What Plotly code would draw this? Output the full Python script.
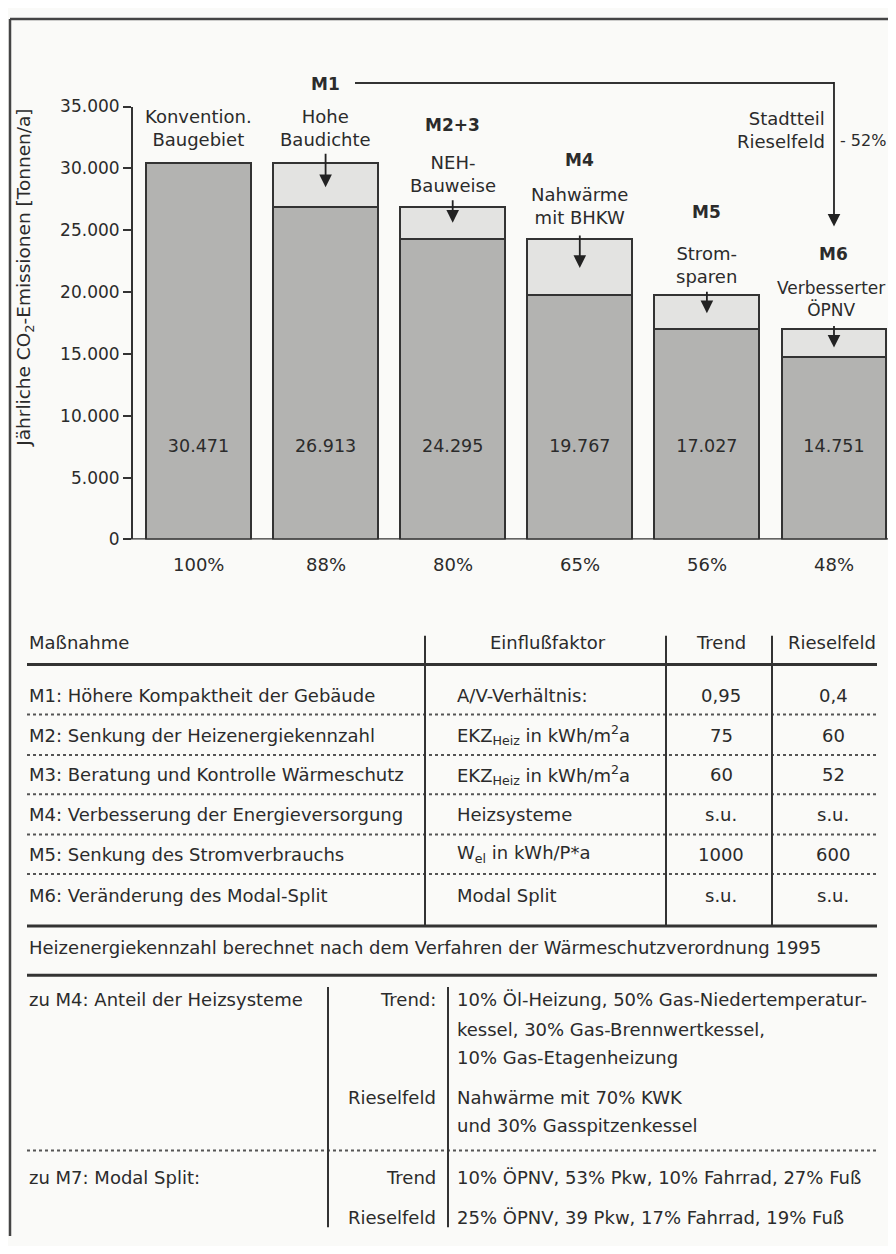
import plotly.graph_objects as go

# ---------------- data ----------------
categories = ["Konvention.<br>Baugebiet", "Hohe<br>Baudichte", "NEH-<br>Bauweise",
              "Nahwärme<br>mit BHKW", "Strom-<br>sparen", "Verbesserter<br>ÖPNV"]
measure_tags = ["", "M1", "M2+3", "M4", "M5", "M6"]
emissions = [30471, 26913, 24295, 19767, 17027, 14751]
percent_labels = ["100%", "88%", "80%", "65%", "56%", "48%"]
ytick_vals = [0, 5000, 10000, 15000, 20000, 25000, 30000, 35000]
ytick_text = ["0", "5.000", "10.000", "15.000", "20.000", "25.000", "30.000", "35.000"]
total_label = "Stadtteil<br>Rieselfeld"
total_change = "- 52%"

table_header = ["Maßnahme", "Einflußfaktor", "Trend", "Rieselfeld"]
table_measures = ["M1: Höhere Kompaktheit der Gebäude",
                  "M2: Senkung der Heizenergiekennzahl",
                  "M3: Beratung und Kontrolle Wärmeschutz",
                  "M4: Verbesserung der Energieversorgung",
                  "M5: Senkung des Stromverbrauchs",
                  "M6: Veränderung des Modal-Split"]
table_factors = ["A/V-Verhältnis:",
                 "EKZ<sub>Heiz</sub> in kWh/m<sup>2</sup>a",
                 "EKZ<sub>Heiz</sub> in kWh/m<sup>2</sup>a",
                 "Heizsysteme",
                 "W<sub>el</sub> in kWh/P*a",
                 "Modal Split"]
table_trend = ["0,95", "75", "60", "s.u.", "1000", "s.u."]
table_riesel = ["0,4", "60", "52", "s.u.", "600", "s.u."]
footnote = "Heizenergiekennzahl berechnet nach dem Verfahren der Wärmeschutzverordnung 1995"

m4_title = "zu M4: Anteil der Heizsysteme"
m4_trend = ["10% Öl-Heizung, 50% Gas-Niedertemperatur-",
            "kessel, 30% Gas-Brennwertkessel,",
            "10% Gas-Etagenheizung"]
m4_riesel = ["Nahwärme mit 70% KWK", "und 30% Gasspitzenkessel"]
m7_title = "zu M7: Modal Split:"
m7_trend = "10% ÖPNV, 53% Pkw, 10% Fahrrad, 27% Fuß"
m7_riesel = "25% ÖPNV, 39 Pkw, 17% Fahrrad, 19% Fuß"

# ---------------- layout helpers ----------------
PAGE_OFF = 8                # browser body margin
FW, FH = 896 - 2 * PAGE_OFF, 1254 - 2 * PAGE_OFF
FONT = "DejaVu Sans"
TXT = "#2b2b2b"
LINE = "#333333"
FS_T = 18      # table text
FS_C = 18      # chart labels
FS_TICK = 17
FS_VAL = 17.5


def X(px):
    return (px - PAGE_OFF) / FW


def Y(py):
    return 1 - (py - PAGE_OFF) / FH


X_DOM0 = 133
X_LO = -0.5153
X_HI = X_LO + (896 - PAGE_OFF - X_DOM0) / 127.1

reductions = [None] + [emissions[i - 1] - emissions[i] for i in range(1, len(emissions))]

fig = go.Figure()
idx = list(range(len(emissions)))
fig.add_trace(go.Bar(x=idx, y=emissions, width=0.826,
                     marker=dict(color="#b3b3b1", line=dict(color=LINE, width=2)),
                     showlegend=False, hoverinfo="skip"))
fig.add_trace(go.Bar(x=idx, y=reductions, width=0.826,
                     marker=dict(color="#e3e3e1", line=dict(color=LINE, width=2)),
                     showlegend=False, hoverinfo="skip"))
fig.add_trace(go.Scatter(x=idx, y=[7400] * len(idx), mode="text",
                         text=[f"{v:,}".replace(",", ".") for v in emissions],
                         textfont=dict(family=FONT, size=FS_VAL, color=TXT),
                         showlegend=False, hoverinfo="skip"))

annotations = []
shapes = []


def ann(text, x, y, xref="paper", xanchor="center", size=FS_T, align="center", **kw):
    annotations.append(dict(text=text, x=x, y=y, xref=xref, yref="paper",
                            xanchor=xanchor, yanchor="middle", showarrow=False,
                            align=align, font=dict(family=FONT, size=size, color=TXT), **kw))


def arrow(x, tip, tail, xref="x"):
    annotations.append(dict(text="", x=x, y=Y(tip), xref=xref, yref="paper",
                            ax=0, ay=-(tip - tail), axref="pixel", ayref="pixel",
                            showarrow=True, arrowhead=2, arrowsize=1.4, arrowwidth=1.8,
                            arrowcolor="#222222", standoff=0))


def hline(x0, x1, y, width=2, dash="solid", color=LINE):
    shapes.append(dict(type="line", xref="paper", yref="paper", x0=X(x0), x1=X(x1),
                       y0=Y(y), y1=Y(y), line=dict(color=color, width=width, dash=dash)))


def vline(x, y0, y1, width=2, color=LINE):
    shapes.append(dict(type="line", xref="paper", yref="paper", x0=X(x), x1=X(x),
                       y0=Y(y0), y1=Y(y1), line=dict(color=color, width=width)))


# category labels above bars
label_y = [119.5, 119.5, 167, 199.5, 259.5, 294]
label_size = [FS_C, FS_C, FS_C, FS_C, FS_C, 17]
label_shift = [0, 0, 0, 0, 0, -3]
tag_y = [None, 75, 117, 152, 205, 248]
arrows_px = [None, (145, 180), (192, 216), (228, 262), (285, 308), (320, 343)]
for i in idx:
    ann(categories[i], i, Y(label_y[i]), xref="x", size=label_size[i], xshift=label_shift[i])
    if measure_tags[i]:
        ann(f"<b>{measure_tags[i]}</b>", i, Y(tag_y[i]), xref="x", size=FS_C - 1)
    if arrows_px[i]:
        arrow(i, arrows_px[i][1], arrows_px[i][0])
    ann(percent_labels[i], i, Y(563), xref="x", size=FS_C)

# M1 bracket to total
hline(355, 834, 74, width=2)
arrow(5, 220, 74)
ann(total_label, X(827), Y(121.5), xanchor="right", align="right", size=FS_C)
ann(total_change, X(838), Y(133), xanchor="left", size=16)

# baseline of bars
shapes.append(dict(type="line", xref="paper", yref="y", x0=X(125), x1=1.0, y0=0, y1=0,
                   line=dict(color=LINE, width=2.5)))

# y axis title
ann("Jährliche CO<sub>2</sub>-Emissionen [Tonnen/a]", X(25), Y(272), textangle=-90, size=18.5)

# ---------------- table 1 ----------------
L, R = 27, 877
hy = 643
ann(table_header[0], X(L), Y(hy), xanchor="left")
ann(table_header[1], X(548), Y(hy))
ann(table_header[2], X(721), Y(hy))
ann(table_header[3], X(832), Y(hy))
hline(L, R, 665, width=3)
row_y = [697, 737, 777, 818, 858, 900]
for j, ry in enumerate(row_y):
    ann(table_measures[j], X(L), Y(ry), xanchor="left")
    ann(table_factors[j], X(455), Y(ry), xanchor="left")
    ann(table_trend[j], X(721), Y(ry))
    ann(table_riesel[j], X(833), Y(ry))
for dy in [716, 757, 797, 838, 878]:
    hline(L, R, dy, width=2, dash="dot", color="#555555")
for vx in [425, 666, 772]:
    vline(vx, 636, 931)
hline(L, R, 931, width=3)
ann(footnote, X(L), Y(953), xanchor="left")
hline(L, R, 981, width=3)

# ---------------- table 2 ----------------
ann(m4_title, X(L), Y(1006), xanchor="left")
ann("Trend:", X(438), Y(1006), xanchor="right")
for k, ty in enumerate([1006, 1036, 1065]):
    ann(m4_trend[k], X(455), Y(ty), xanchor="left")
ann("Rieselfeld", X(438), Y(1105), xanchor="right")
for k, ty in enumerate([1105, 1134]):
    ann(m4_riesel[k], X(455), Y(ty), xanchor="left")
hline(L, R, 1159, width=2, dash="dot", color="#555555")
ann(m7_title, X(L), Y(1187), xanchor="left")
ann("Trend", X(438), Y(1187), xanchor="right")
ann(m7_trend, X(455), Y(1187), xanchor="left")
ann("Rieselfeld", X(438), Y(1227), xanchor="right")
ann(m7_riesel, X(455), Y(1227), xanchor="left")
vline(328, 993, 1237)
vline(448, 993, 1237)

# outer frame (left and top)
vline(10, 9, 1246, width=2.5, color="#444444")
hline(10, 888, 9, width=2.5, color="#444444")

fig.update_layout(
    width=FW, height=FH, autosize=False,
    margin=dict(l=0, r=0, t=0, b=0),
    paper_bgcolor="#fafaf8", plot_bgcolor="rgba(0,0,0,0)",
    barmode="stack", bargap=0,
    font=dict(family=FONT, size=FS_T, color=TXT),
    xaxis=dict(domain=[X(X_DOM0), 1.0], range=[X_LO, X_HI], showticklabels=False,
               showgrid=False, zeroline=False, showline=False, fixedrange=True),
    yaxis=dict(domain=[Y(538), Y(98)], range=[0, 35000], tickvals=ytick_vals,
               ticktext=ytick_text, ticks="outside", ticklen=8, tickwidth=2,
               tickcolor=LINE, showline=True, linecolor=LINE, linewidth=2,
               showgrid=False, zeroline=False,
               tickfont=dict(family=FONT, size=FS_TICK, color=TXT)),
    annotations=annotations, shapes=shapes,
)

fig.write_html("out.html")
